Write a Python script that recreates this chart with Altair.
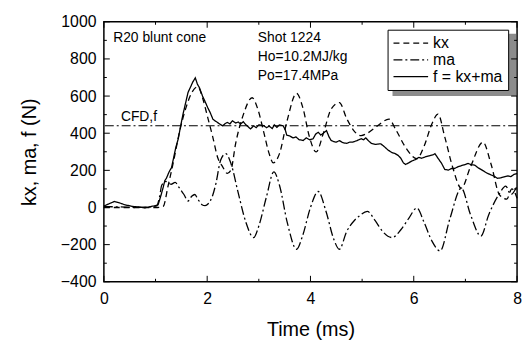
import altair as alt
import pandas as pd

W, H = 418, 263
FONT = "Liberation Sans"

# ---- data ----
kx_t = [0, 0.5, 1.0, 1.1, 1.15, 1.24, 1.34, 1.47, 1.59, 1.72, 1.82, 1.91, 2.01, 2.11, 2.2, 2.3, 2.39, 2.46, 2.55, 2.7,
        2.87, 2.98, 3.1, 3.2, 3.28, 3.4, 3.55, 3.73, 3.85, 3.98, 4.11, 4.25, 4.4, 4.56, 4.7, 4.85, 4.98, 5.1, 5.3, 5.52,
        5.65, 5.85, 6.06, 6.2, 6.35, 6.47, 6.6, 6.75, 6.92, 7.1, 7.34, 7.5, 7.66, 7.8, 7.9, 8.0]
kx_v = [0, 0, 0, 2, 6, 112, 237, 414, 538, 627, 650, 591, 485, 378, 272, 219, 184, 201, 343, 500,
        591, 530, 400, 290, 240, 290, 470, 615, 540, 380, 299, 400, 530, 565, 480, 410, 387, 400, 440, 476,
        420, 320, 263, 330, 450, 503, 380, 220, 104, 220, 352, 230, 68, 45, 100, 50]

ma_t = [0, 0.3, 0.6, 0.9, 1.02, 1.08, 1.12, 1.2, 1.3, 1.38, 1.45, 1.55, 1.63, 1.7, 1.76, 1.82, 1.9, 1.96, 2.02, 2.1,
        2.17, 2.26, 2.36, 2.46, 2.6, 2.75, 2.9, 3.0, 3.15, 3.29, 3.4, 3.55, 3.73, 3.85, 4.0, 4.15, 4.3, 4.45, 4.56, 4.7,
        4.85, 4.94, 5.1, 5.25, 5.4, 5.58, 5.75, 5.9, 6.06, 6.2, 6.35, 6.51, 6.7, 6.92, 7.1, 7.3, 7.45, 7.66, 7.78, 7.88, 8.0]
ma_v = [5, 3, 0, 3, 8, 60, 120, 140, 125, 135, 110, 70, 35, 60, 70, 45, 15, 10, 20, 60,
        130, 254, 290, 237, 80, -80, -162, -100, 60, 192, 120, -80, -225, -150, 0, 86, -20, -170, -225, -130,
        -70, -47, -21, -70, -130, -162, -120, -60, -3, -80, -180, -234, -60, 104, -40, -154, -40, 75, 115, 70, 115]

f_t = [0, 0.1, 0.2, 0.3, 0.4, 0.55, 0.7, 0.8, 0.9, 1.0,
       1.05, 1.1, 1.15, 1.18, 1.21, 1.26, 1.31, 1.34, 1.39, 1.44,
       1.48, 1.53, 1.58, 1.63, 1.68, 1.72, 1.77, 1.81, 1.85, 1.91,
       1.96, 2.01, 2.06, 2.11, 2.16, 2.2, 2.25, 2.3, 2.35, 2.39,
       2.44, 2.49, 2.55, 2.6, 2.65, 2.7, 2.75, 2.84, 2.9, 2.95,
       3.0, 3.09, 3.15, 3.2, 3.26, 3.3, 3.35, 3.4, 3.47, 3.51,
       3.54, 3.6, 3.66, 3.72, 3.78, 3.86, 3.92, 3.98, 4.05, 4.1,
       4.15, 4.2, 4.25, 4.31, 4.36, 4.4, 4.45, 4.5, 4.56, 4.62,
       4.7, 4.76, 4.82, 4.9, 4.98, 5.03, 5.07, 5.12, 5.18, 5.26,
       5.36, 5.42, 5.5, 5.58, 5.64, 5.7, 5.75, 5.8, 5.84, 5.9,
       5.96, 6.03, 6.1, 6.15, 6.22, 6.3, 6.38, 6.41, 6.47, 6.54,
       6.6, 6.67, 6.73, 6.79, 6.86, 6.92, 6.98, 7.05, 7.12, 7.18,
       7.24, 7.3, 7.36, 7.42, 7.5, 7.56, 7.62, 7.69, 7.75, 7.82,
       7.88, 7.94, 8.0]
f_v = [8, 20, 32, 25, 15, 6, 2, -2, 5, 10,
       15, 60, 110, 145, 157, 190, 215, 254, 320, 370,
       430, 500, 560, 620, 650, 675, 698, 665, 645, 600,
       570, 538, 510, 476, 465, 458, 448, 440, 452, 458,
       450, 467, 455, 460, 450, 462, 445, 423, 440, 430,
       445, 441, 430, 438, 425, 445, 432, 445, 440, 420,
       390, 385, 375, 380, 365, 361, 375, 365, 370, 395,
       405, 390, 400, 414, 380, 361, 355, 352, 360, 350,
       345, 352, 352, 360, 370, 365, 375, 360, 345, 340,
       343, 330, 310, 295, 290, 280, 265, 240, 232, 240,
       250, 258, 270, 265, 272, 278, 285, 290, 265, 237,
       205, 201, 210, 210, 220, 225, 230, 237, 230, 228,
       215, 205, 195, 185, 175, 168, 157, 160, 165, 170,
       166, 178, 183]

cfd_value = 440
series_names = ["kx", "ma", "f = kx+ma"]
dash_styles = [[6, 4], [9, 3, 2, 3], [1, 0]]

x_major = [0, 2, 4, 6, 8]
x_minor = [1, 3, 5, 7]
y_major = [-400, -200, 0, 200, 400, 600, 800, 1000]
y_minor = [-300, -100, 100, 300, 500, 700, 900]

ann_text = ["R20 blunt cone", "Shot 1224", "Ho=10.2MJ/kg", "Po=17.4MPa", "CFD,f"]
ann_x = [0.18, 2.98, 2.98, 2.98, 0.33]
ann_y = [914, 914, 810, 706, 487]

# ---- build ----
xs = alt.Scale(domain=[0, 8], nice=False, zero=False)
ys = alt.Scale(domain=[-400, 1000], nice=False, zero=False)
dash_scale = alt.Scale(domain=series_names, range=dash_styles)

df_kx = pd.DataFrame({"t": kx_t, "v": kx_v, "s": series_names[0]})
df_ma = pd.DataFrame({"t": ma_t, "v": ma_v, "s": series_names[1]})
df_f = pd.DataFrame({"t": f_t, "v": f_v, "s": series_names[2]})

legend = alt.Legend(
    title=None, orient="none", legendX=287, legendY=8,
    symbolType="M-1,0H3.67", symbolSize=225, symbolStrokeWidth=1.3, symbolStrokeColor="black",
    labelFont=FONT, labelFontSize=16, labelColor="black", labelOffset=24,
    strokeColor="black", fillColor="white", padding=5, rowPadding=0,
)

xaxis = alt.Axis(title="Time (ms)", values=x_major, ticks=False, domain=False, grid=False,
                 labelFont=FONT, labelFontSize=16, labelColor="black", labelPadding=9,
                 labelOverlap=False, format="d",
                 titleFont=FONT, titleFontSize=20, titleFontWeight="normal", titleColor="black",
                 titlePadding=13, labelFlush=False)
yaxis = alt.Axis(title="kx, ma, f (N)", values=y_major, ticks=False, domain=False, grid=False,
                 labelFont=FONT, labelFontSize=16, labelColor="black", labelPadding=8,
                 labelOverlap=False, format="d",
                 titleFont=FONT, titleFontSize=20, titleFontWeight="normal", titleColor="black",
                 titlePadding=21, labelFlush=False)


def X(field):
    return alt.X(field, scale=xs, axis=xaxis)


def Y(field):
    return alt.Y(field, scale=ys, axis=yaxis)


def curve(df, interp, with_legend):
    return alt.Chart(df).mark_line(color="black", strokeWidth=1.3, interpolate=interp).encode(
        x=X("t:Q"), y=Y("v:Q"),
        strokeDash=alt.StrokeDash("s:N", scale=dash_scale, legend=legend if with_legend else None),
    )


shadow = alt.Chart(pd.DataFrame({"a": [0]})).mark_rect(color="#8c8c8c").encode(
    x=alt.value(292), x2=alt.value(417), y=alt.value(12), y2=alt.value(75))

cfd = alt.Chart(pd.DataFrame({"v": [cfd_value]})).mark_rule(
    color="black", strokeWidth=1.1, strokeDash=[9, 3, 2, 3]).encode(y=Y("v:Q"))

ann = alt.Chart(pd.DataFrame({"t": ann_x, "v": ann_y, "txt": ann_text})).mark_text(
    font=FONT, fontSize=14, align="left", baseline="middle", color="black").encode(
    x=X("t:Q"), y=Y("v:Q"), text="txt:N")


def xticks(vals, length):
    d = pd.DataFrame({"t": vals})
    b = alt.Chart(d).mark_rule(color="black", strokeWidth=1).encode(
        x=X("t:Q"), y=alt.value(H), y2=alt.value(H - length))
    t = alt.Chart(d).mark_rule(color="black", strokeWidth=1).encode(
        x=X("t:Q"), y=alt.value(0), y2=alt.value(length))
    return [b, t]


def yticks(vals, length):
    d = pd.DataFrame({"v": vals})
    l = alt.Chart(d).mark_rule(color="black", strokeWidth=1).encode(
        y=Y("v:Q"), x=alt.value(0), x2=alt.value(length))
    r = alt.Chart(d).mark_rule(color="black", strokeWidth=1).encode(
        y=Y("v:Q"), x=alt.value(W), x2=alt.value(W - length))
    return [l, r]


layers = [curve(df_kx, "monotone", True),
          curve(df_ma, "monotone", False),
          curve(df_f, "linear", False),
          shadow, cfd, ann]
layers += xticks(x_major, 6) + xticks(x_minor, 3) + yticks(y_major, 6) + yticks(y_minor, 3)

chart = alt.layer(*layers).properties(
    width=W, height=H,
    autosize=alt.AutoSizeParams(type="none"),
    padding={"left": 97, "top": 12, "right": 5, "bottom": 60},
    background="white",
).configure_view(stroke="black", strokeWidth=1.5)

chart.save("out.html", embed_options={"renderer": "svg", "actions": False})
